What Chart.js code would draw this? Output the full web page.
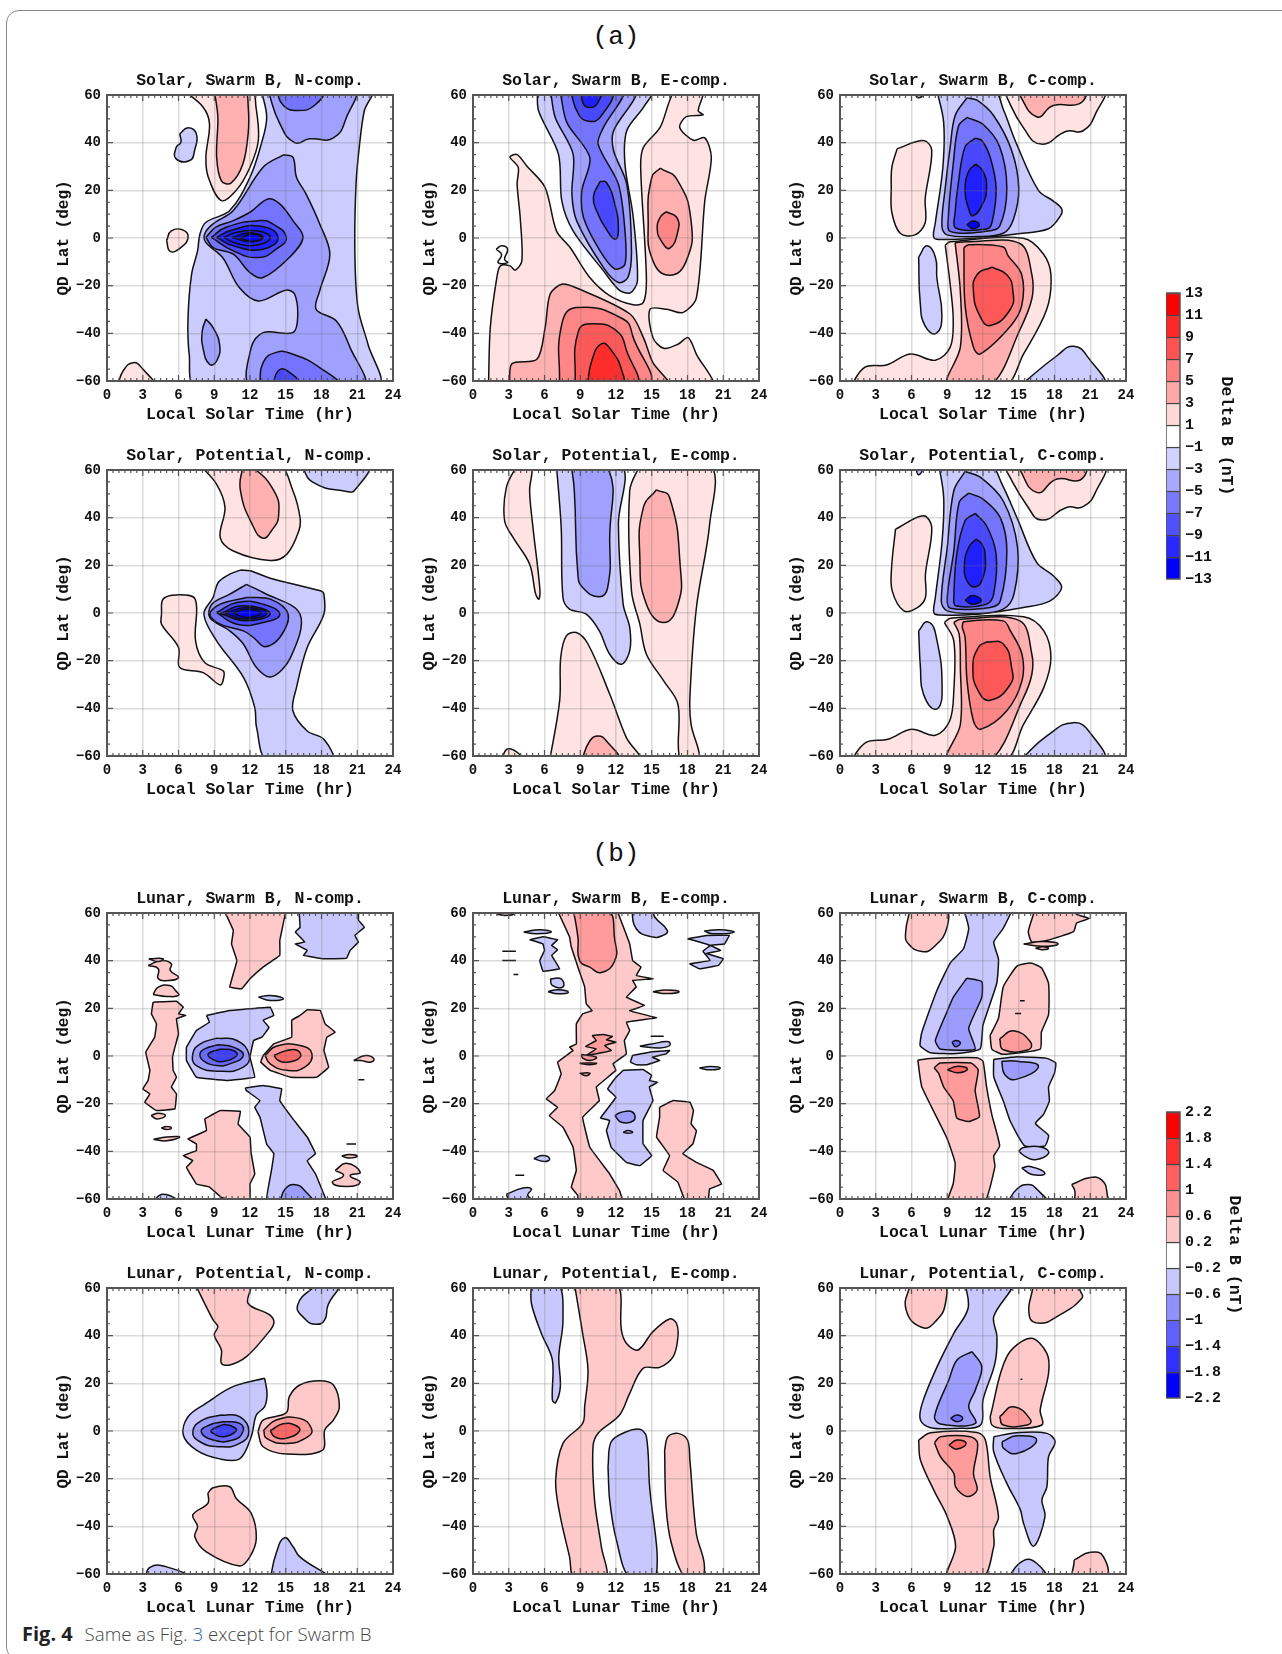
<!DOCTYPE html>
<html>
<head>
<meta charset="utf-8">
<style>
  html, body { margin: 0; padding: 0; background: #fff; width: 1282px; height: 1654px; overflow: hidden; }
  #frame { position: absolute; left: 5.5px; top: 9.5px; width: 1400px; height: 1650px; border: 1.5px solid #8a8a8a; border-radius: 13px; box-sizing: border-box; }
  canvas { position: absolute; }
  .head { position: absolute; left: 566px; width: 100px; text-align: center; font: 26px "Liberation Mono", monospace; color: #111; }
  #caption { position: absolute; left: 22px; top: 1620px; font: 300 18.7px/27px "Open Sans", sans-serif; color: #444; white-space: nowrap; }
  #caption b { font-size: 20px; font-weight: 700; color: #222; margin-right: 7px; }
  #caption span { color: #2a5db0; }
</style>
</head>
<body>
<div id="frame"></div>
<div class="head" style="top:22px">(a)</div>
<div class="head" style="top:839px">(b)</div>
<div id="caption"><b>Fig. 4</b> Same as Fig. <span>3</span> except for Swarm B</div>
<script src="https://cdn.jsdelivr.net/npm/chart.js@4/dist/chart.umd.min.js"></script>
<script>
// contours: [level index, [hr, deg, hr, deg, ...]], painted in list order
const solarSwarmN = [
  [1, [0.9,-62, 1.35,-55.8, 2.2,-52.3, 3,-55, 3.9,-62]],
  [1, [6.4,62, 8.05,55, 8.6,48, 8.3,34, 8.5,25.5, 9.6,15.7, 10.85,20, 12,29.7, 12.7,41, 12.5,55, 12.1,62]],
  [2, [9,62, 9.3,50.7, 9.2,34, 9.6,24, 10.4,23, 11.4,31, 11.85,44, 11.85,55, 11.55,62]],
  [-1, [6.1,43.7, 6.8,46.3, 7.5,43.7, 7.35,36.7, 6.95,32.5, 5.8,33.2, 5.8,38, 6.2,40.2]],
  [1, [5,-1.1, 5.4,3, 6.4,3.3, 6.8,0.2, 6.2,-4, 5.3,-5.6]],
  [-1, [12.95,62, 13.4,50.7, 12.95,39.5, 12,25.5, 10.3,11.5, 8.3,6.6, 7.8,1.7, 7.6,-5.4, 7.1,-15.2, 6.8,-33.4, 6.9,-48.8, 7.5,-62, 22.7,-62, 21.9,-44.6, 21.06,-29.2, 20.8,-5.4, 20.9,22.7, 21.2,39.5, 21.6,53.5, 22.2,62]],
  [-2, [13.5,62, 14.5,48, 15.75,40, 17,41.6, 19,42, 20.1,50.7, 20.6,62]],
  [-3, [14.2,62, 14.8,55.6, 16,53.5, 17.4,55.6, 18.1,62]],
  [-2, [14.8,34.9, 15.6,33.9, 15.9,25.5, 16.7,18.5, 17.85,5.9, 18.7,-6.8, 17.85,-22.2, 17.55,-29.9, 19.25,-34.8, 20.4,-46, 21.5,-62, 12.1,-62, 12.1,-46, 13.1,-39.7, 15.6,-39.7, 16,-33.4, 15.75,-23.6, 15,-21.9, 12.7,-26.4, 11.1,-20.8, 9.7,-8.2, 8.3,-1.9, 8.2,1.7, 8.9,5.9, 10.6,11.5, 13.1,29.7]],
  [-2, [8.3,-34, 8.9,-37.6, 9.45,-44.6, 9.2,-51.6, 8.6,-53, 8.05,-46, 8,-39]],
  [-3, [8.3,0.25, 9.1,4.5, 10.6,7.3, 12,10.8, 13.5,16.4, 14.5,14.3, 15.6,7.3, 16.45,0.25, 15.3,-8.2, 13.1,-16.6, 12,-14.5, 10.6,-6.8, 8.9,-4]],
  [-3, [12.8,-62, 13.1,-52.3, 14.2,-48, 15.6,-48.8, 17.85,-54.4, 19.4,-62]],
  [-4, [13.9,-62, 14.35,-55.8, 15.05,-55.4, 16.2,-62]],
  [-4, [8.75,0.25, 10,4.5, 12.8,7.3, 13.9,5.9, 15.05,0.25, 14.2,-4.7, 12.7,-8.2, 10.6,-5.4]],
  [-5, [9.2,0.25, 10.3,3, 12.8,5, 14.35,0.25, 13.1,-4.7, 10.6,-3.3]],
  [-5, [9.8,0.25, 10.85,2.3, 12.5,3, 13.7,0.25, 12.5,-3, 10.7,-2]],
  [-6, [10.5,0.25, 12,2.2, 13.1,0.25, 12,-1.6]],
  [-6, [11.2,0, 12.1,1.7, 13,0, 12.1,-1.5]]
];
const solarSwarmE = [
  [1, [1.3,-62, 1.45,-37.6, 2,-16.6, 2.3,-11.7, 3.1,-11.7, 3.55,-13.5, 4.1,-9.6, 3.96,8.6, 3.7,22.6, 3.8,29.6, 3.1,34, 3.7,35, 4.5,30.3, 6.05,21.2, 7,3, 8.15,-4, 9.8,-16.6, 11.5,-24.3, 13.45,-28, 14.3,-27, 14.55,-16.6, 14.07,29.6, 14.3,38, 15.7,46.4, 16.5,57.6, 17,62, 19.3,62, 18.9,53.4, 19.3,51.7, 17.9,50.9, 17.35,46.4, 18.5,41, 19.45,42, 20,33.8, 19.45,15.6, 18.75,-25, 17.6,-31.3, 16.25,-29.9, 14.85,-29.9, 15.1,-41.8, 16,-46.3, 17.2,-44.6, 18.05,-41.8, 18.75,-48.8, 20,-62]],
  [0, [1.95,-4.7, 2.4,-3.3, 2.9,-4.7, 2.65,-8.9, 2.9,-10.3, 2.1,-10.3, 2.4,-7]],
  [-1, [5.4,62, 5.5,53.4, 7.17,35.2, 7.45,15.6, 8.4,3, 10.95,-13.8, 12.3,-22, 13.2,-23, 13.8,-18, 13.45,8.6, 12.75,31, 12.9,45, 14.3,54.8, 15,62]],
  [-2, [6.5,62, 6.9,50.6, 8.4,35.2, 8.3,18.4, 8.7,7.2, 10.95,-12.4, 12.2,-18.7, 13,-16.6, 13.3,-5.4, 12.9,22.6, 11.8,36.6, 11.8,45, 13.45,57.6, 13.7,62]],
  [-3, [7.3,62, 7.87,48.5, 9.8,33.8, 9.13,19.8, 9.27,8.6, 10.66,-5.4, 11.9,-13, 12.75,-11, 12.75,3, 12.2,22.6, 10.5,39.4, 10.95,46.4, 12.6,62]],
  [-4, [8.15,62, 8.85,52, 9.7,49, 10.66,50.6, 11.6,62]],
  [-5, [9.05,62, 9.27,56.2, 9.8,54.8, 10.4,56.2, 10.66,62]],
  [-4, [10.66,23.7, 11.2,23.3, 11.9,14.2, 12.2,3, 11.9,-0.5, 11.1,4.4, 10.5,10, 10.1,17]],
  [2, [15.7,29.3, 17.1,24.7, 18.3,7.2, 17.9,-9.6, 16.5,-15.6, 15.1,-9.6, 14.7,7.2, 15,25.4]],
  [3, [16.2,11, 17.1,8.6, 17.2,3, 16.5,-4.3, 15.8,-1.2, 15.46,3.7, 15.7,8.6]],
  [2, [3.07,-62, 3.27,-52.7, 5.36,-50.9, 6.05,-37.6, 6.47,-23.6, 7.45,-19.4, 8.7,-21, 13.2,-32, 14.3,-41.8, 15.1,-52.3, 16.4,-62]],
  [3, [7.25,-62, 7.45,-36.2, 8.7,-29.2, 12.6,-34, 13.45,-41.8, 14.6,-62]],
  [4, [8.55,-62, 8.85,-39, 10.1,-36, 12.05,-39, 12.9,-47.4, 13.6,-62]],
  [5, [9.6,-62, 9.96,-51.6, 10.8,-44.3, 11.65,-47.4, 12.5,-55.8, 12.5,-62]]
];
const solarSwarmC = [
  [-1, [6.1,62, 6.6,58.8, 7.15,62]],
  [-1, [8.13,62, 8.7,48.4, 8.63,29.6, 8,6.4, 7.85,0.6, 8.27,-0.6, 11.5,0, 14.8,1.7, 17.5,3.9, 18.5,9.3, 18.6,12.2, 17.9,15.5, 16.65,20, 14.8,39.7, 13.7,54, 12.9,62]],
  [-2, [10.65,58.8, 9.66,51.3, 9.25,38.3, 8.83,20.9, 8.55,5, 8.97,1.3, 11.5,0.6, 13.7,2, 14.55,7.8, 15,20.9, 14.4,36.8, 12.9,51.3, 11.5,57.8]],
  [-3, [10.65,50.6, 9.95,47, 9.5,31, 9.1,9.3, 9.25,2.8, 12.3,2.8, 13.4,5, 14,20.9, 13.4,38.3, 12,47.7]],
  [-4, [11.35,41.9, 10.5,38.3, 9.95,23.8, 9.66,10.7, 9.7,4.2, 12.3,3.8, 12.75,6.4, 13.1,20.9, 12.6,33.9, 11.9,40.9]],
  [-5, [11.4,31, 10.8,28, 10.5,19.4, 10.8,12.2, 11.15,9.3, 11.9,13.6, 12.3,20.9, 12,28]],
  [-6, [10.65,5.6, 11.15,7.1, 11.7,5.6, 11.15,3.9]],
  [1, [4.8,37.5, 7,40.9, 7.7,36.8, 7.15,16.5, 7.15,6.4, 6.3,1.3, 5.05,2, 4.35,10.7, 4.3,20.9, 4.35,29.6]],
  [-1, [6.6,-8, 7.3,-3.3, 8,-8, 8.13,-16.8, 8.55,-32.8, 8.07,-40, 7.15,-37, 6.73,-27]],
  [1, [8.83,-3, 9.25,-1.6, 15.4,-0.1, 17.07,-6.7, 17.7,-15.4, 17.35,-29.9, 15.4,-48.7, 13.7,-62, 1.3,-62, 2.1,-54.2, 3.9,-53.3, 5.9,-48.7, 8,-51.3, 9.25,-45.8, 9.5,-34.2, 9.25,-19.7]],
  [2, [9.66,-2, 10.65,-1.6, 15.1,-2.3, 16.1,-15.4, 16.1,-25.5, 15.1,-38.5, 12.6,-62, 9,-62, 10.1,-45.8, 10.1,-22.6]],
  [3, [10.4,-4, 10.8,-2.8, 13.7,-3.8, 14.1,-7.4, 15.25,-15.4, 15.25,-28.4, 14.3,-37, 11.75,-48.7, 11.2,-45.8, 10.5,-28.4]],
  [4, [12.75,-12.2, 14,-15.4, 14.5,-21.9, 14.3,-29.9, 12.6,-36.7, 11.75,-32.8, 11.2,-22.6, 11.5,-15.4]],
  [1, [13.7,62, 15.4,46.2, 16.9,39.4, 19,44.8, 20.4,45, 21.5,52.7, 22,62]],
  [2, [14.8,62, 16.5,50.9, 17.9,55.6, 20.1,56.4, 20.5,62]],
  [-1, [15.1,-62, 18.2,-49.4, 19.6,-45.4, 20.8,-50, 22,-62]]
];
const solarPotentialN = [
  [1, [7.8,62, 9.2,54, 9.9,44.3, 9.5,31.7, 10.6,26, 13.7,22, 15.1,24.7, 16.1,34.5, 16.2,40, 15.6,51.3, 14.4,62]],
  [2, [11.4,62, 11.2,51.3, 12.3,36, 13.1,31.4, 13.8,34.5, 14.4,40.8, 14,51.3, 12,62]],
  [-1, [16.3,62, 17.3,54.8, 20.1,51, 20.8,51.6, 21.8,62]],
  [1, [4.57,-0.5, 4.7,5.8, 5.83,7.6, 7.4,5.8, 7.43,-11.7, 8.2,-20.8, 9.75,-24.3, 9.8,-27, 9.5,-30.2, 8.07,-25, 6.1,-22.9, 6,-14.5, 4.57,-4.7]],
  [-1, [11.2,18, 12,17.7, 13.7,14.6, 17.9,9.3, 18.2,7.9, 18.2,-0.5, 16.8,-14.5, 15.9,-31.3, 15.6,-41, 16.8,-49.5, 18.2,-53, 18.9,-62, 13.5,-62, 12.55,-48, 12.4,-39.7, 11.45,-27, 9.2,-11.7, 8.13,-0.5, 8.9,6.5, 9.33,12.8, 10.3,16.3]],
  [-2, [11.7,12, 13.1,8.6, 16.2,-0.5, 15.4,-18.7, 13.8,-26.8, 12.56,-23, 11.44,-13, 10.3,-7.5, 8.63,-1.9, 8.8,3.7, 10.3,7.9]],
  [-3, [11.7,6.5, 13.7,5.8, 15.2,-0.5, 14.5,-10.3, 13.26,-14.2, 12.3,-10.3, 11.44,-7.5, 9.5,-4.7, 8.63,-0.5, 9.5,3.7]],
  [-4, [9.2,0.2, 10.9,4.4, 13.1,3.7, 14.5,-0.5, 13.1,-4, 10.9,-4.7]],
  [-5, [9.5,-0.2, 11.4,3, 13.7,-0.2, 11.7,-3.3]],
  [-6, [9.9,-0.1, 11.7,2.3, 13.4,-0.1, 11.7,-2.6]],
  [-6, [10.6,0, 11.7,1.6, 12.9,0, 11.7,-1.9]]
];
const solarPotentialE = [
  [1, [3.7,62, 2.8,52.7, 2.65,38.7, 3.36,31.7, 4.75,20.5, 5.26,7.9, 5.54,5.8, 5.6,10.7, 5,37.3, 4.75,51.3, 4.9,62]],
  [-1, [7,62, 7.4,36, 7.55,6.5, 8.1,1.6, 9.5,-0.5, 10.6,-7.5, 11.47,-17.3, 12.45,-21.5, 13.15,-15.9, 13.15,-6, 12.6,3.7, 12.2,37.3, 12.45,62]],
  [-2, [8.25,62, 8.5,51.3, 8.8,16.3, 9.2,10.7, 10.6,6.8, 11.3,10.7, 11.47,30.3, 11.2,62]],
  [1, [14,62, 13.15,51.3, 13.3,9.3, 14,-4.7, 14.55,-17.3, 16,-28.5, 17.2,-38.3, 17.4,-62, 19,-62, 18.3,-46.7, 18.2,-35.5, 18.75,2.3, 19.86,37.3, 19.9,62]],
  [2, [15.4,51.7, 16.5,48.5, 17.4,19, 17.2,3.7, 16,-4, 14.55,3.7, 14,23.3, 14.3,44.3]],
  [1, [6.43,-62, 7.27,-36.9, 7.36,-18.7, 7.83,-9.6, 8.67,-8.2, 9.65,-13, 11.47,-34, 12.87,-52.3, 14,-62]],
  [2, [9.1,-62, 9.8,-53.7, 10.5,-51.6, 11.2,-53.7, 12.2,-62]],
  [1, [2.3,-62, 3,-57, 4.2,-62]]
];
const solarPotentialC = [
  [-1, [6.3,62, 6.6,58, 7,62]],
  [-1, [8.3,62, 8.7,48.5, 8.57,30.3, 8,6.5, 7.87,0.2, 8.3,-0.8, 11.5,-0.5, 15.4,2.3, 17.6,5, 18.6,10.7, 17.9,15.6, 16.5,21.2, 14.85,40, 13.6,54, 12.6,62]],
  [-2, [10.5,59.4, 9.55,51.3, 9,27.5, 8.5,5, 9,0.9, 11.5,-0.2, 13.7,1.6, 14.6,7.9, 14.9,27.5, 13.7,47, 11.8,56.9]],
  [-3, [10.8,50.3, 10,46.4, 9.55,26, 9,6.5, 9.27,2, 12.6,2.3, 13.45,5, 14,26, 13.45,40, 12,47.8]],
  [-4, [11.35,41.8, 10.5,38.7, 9.8,24.7, 9.55,6.5, 9.7,3, 12.3,3.7, 12.9,8, 13.1,24.7, 12.3,36.6]],
  [-5, [11.4,31, 10.8,27.5, 10.45,20.5, 10.66,13.5, 11.4,11, 12,15, 12.2,23.3, 11.9,29]],
  [-6, [10.5,5.4, 11.1,7.3, 11.86,5.4, 11.1,3.7]],
  [1, [4.66,35.2, 7,40.8, 7.7,35.9, 7.17,16.3, 7.17,6.5, 6.5,2.3, 5.36,0.9, 4.38,9.3, 4.33,19.1]],
  [-1, [6.6,-7.5, 7.3,-3.7, 8,-8.2, 8.57,-34, 8,-40.4, 7,-34, 6.75,-22.9]],
  [1, [8.76,-4, 9.27,-2.2, 15.4,-1.6, 17.1,-7.5, 17.7,-18.7, 17.1,-31.3, 15.4,-46.7, 13.7,-62, 1.3,-62, 2.15,-54.4, 4,-53, 6,-48.8, 8,-51.3, 9.2,-45.3, 9.55,-32.7, 9.55,-11.7]],
  [2, [9.55,-4, 10.1,-2.6, 15.1,-3.3, 16.1,-17.3, 16.1,-25.7, 15.4,-35.5, 12.6,-62, 9,-62, 10.1,-46.7, 10.1,-22.9, 10,-8.9]],
  [3, [10.25,-6, 10.4,-3.7, 13.7,-3.3, 14.3,-7.5, 15.27,-17.3, 15.27,-28.5, 14,-41, 11.8,-48.8, 11.2,-45.3, 10.66,-28.5, 10.5,-10.3]],
  [4, [12.3,-12.1, 13.7,-13, 14.4,-22.9, 14.3,-29.9, 12.6,-36.6, 11.6,-32.7, 11.15,-22.9, 11.6,-14.5]],
  [1, [13.7,62, 15.7,45, 16.95,39, 19,44.3, 20.4,44.6, 21.5,51.3, 22,62]],
  [2, [14.85,62, 16.5,50.6, 18.2,56.2, 20.15,55.8, 20.5,62]],
  [-1, [15.1,-62, 17.36,-51.6, 19.6,-46, 21.1,-51, 22,-62]]
];
const lunarSwarmN = [
  [1, [3.87,22.6, 5.83,23, 6.4,20.5, 6,17.7, 6.6,17, 5.83,15.6, 6,9.3, 5.7,3.7, 5.5,-0.5, 5.55,-6, 5.83,-8.9, 5.4,-13, 5.83,-15.9, 5.7,-22.2, 4.15,-22.9, 3.17,-19.4, 3.6,-15.9, 3,-13.8, 3.45,-10.3, 3.6,-6, 3.25,1.6, 4,7.9, 4.15,13.5, 3.73,17.7]],
  [1, [3.87,25.8, 4.3,28.9, 5.27,29.6, 5.75,27.5, 6,25.4, 5,25]],
  [1, [3.45,38, 4.57,40.1, 5.4,38.7, 5.3,35.9, 6,33, 5.13,31.7, 4.3,32.4, 4.3,36.6]],
  [1, [3.5,40.8, 4.7,40.8, 4.3,39.6]],
  [1, [3.7,-25, 4.3,-24, 4.9,-25, 4.2,-26.4]],
  [1, [4.55,-30.2, 5,-29.6, 5.4,-30.2, 5,-30.8]],
  [1, [3.9,-35, 5,-34, 6.1,-34, 5,-35.6]],
  [1, [20.7,-1.9, 21.7,0.2, 22.4,-1.2, 22.1,-2.6, 21.3,-1.9]],
  [1, [21.1,-10, 21.6,-10]],
  [-1, [16.1,62, 16.2,54, 15.8,52, 16.6,47.8, 15.8,47, 16.8,44.3, 16.5,42.2, 18.2,40.8, 20.1,41, 20.4,44.3, 21.1,47.8, 20.8,50.6, 21.6,54, 21.1,57, 21.1,62]],
  [1, [9.75,62, 10.6,52.7, 10.45,47, 10.9,40, 10.3,28.9, 11.3,28.2, 12,32.4, 13.1,37.3, 14.5,42.2, 14.5,48.5, 15,62]],
  [-1, [12.7,24.7, 13.7,25.4, 14.8,24, 13.7,23.3]],
  [-1, [8.35,17, 10.3,19.1, 13.7,20.5, 14,17, 13.1,15, 13.6,12, 13,7.9, 12.3,6.5, 12,-0.5, 12.4,-8.9, 10,-10.3, 7.5,-8.9, 6.67,-1.9, 6.67,3.7, 7.5,10.7, 8.6,14.2]],
  [-2, [9.2,7.5, 10.9,6.5, 11.94,0.2, 11.44,-4.7, 9.5,-6.4, 7.5,-4, 7.2,0.9, 7.8,5]],
  [-3, [9.3,4.7, 10.6,3.7, 11.44,0.2, 10.3,-3.3, 9.2,-4, 8.07,-1.9, 7.8,0.9, 8.2,3]],
  [-4, [9.5,2.9, 10.6,2.3, 10.9,0.2, 9.75,-2.3, 8.8,-1.2, 8.5,0.9]],
  [1, [13.1,0.2, 14,5.1, 15.5,7.9, 15.5,15, 16.2,17, 16.8,19.4, 17.9,19.1, 18.3,13.5, 19.15,10, 18.45,7.9, 18.2,2.3, 18.6,-4.7, 17.6,-8.9, 15.4,-8.9, 13.7,-6, 12.9,-2.6]],
  [2, [13.26,0.2, 14.2,4.1, 16.2,4.4, 17.2,0.9, 16.6,-4.7, 15.1,-6, 13.7,-3.3]],
  [3, [14,0.2, 15.1,2.3, 16,2.3, 16.2,-0.5, 15.1,-2.6, 14.4,-1.9]],
  [-1, [11.6,-13.4, 13.1,-12.4, 14.66,-13.8, 14.5,-18.7, 15.6,-26.4, 16.8,-34, 17.5,-41, 16.8,-43.9, 17.5,-49.5, 18.3,-59.3, 18.5,-62, 13.35,-62, 13.8,-48, 14,-41, 13.4,-37, 12.84,-25.7, 12.4,-21.5, 12.84,-18.7, 11.7,-14.5]],
  [-2, [14.47,-62, 14.95,-55.8, 15.8,-54, 16.6,-56.5, 17.25,-62]],
  [-1, [3.73,-62, 4.7,-58, 6.1,-62]],
  [1, [8.2,-26.4, 9.5,-22.9, 11.2,-23.2, 11,-28.5, 12,-34, 12.1,-41, 12.4,-49.5, 12,-53.7, 12,-62, 9.6,-59.3, 8.6,-55, 7.5,-53.7, 6.67,-46.7, 7.2,-43.9, 6.4,-41.8, 7.5,-39.7, 7.5,-36.9, 6.8,-34.8, 8.35,-31.3]],
  [1, [19.15,-48, 20.1,-45, 21.25,-48.8, 20.4,-50.2, 21.25,-53, 20.1,-54.8, 18.9,-53, 19.85,-50.2]],
  [1, [19.7,-42, 20.3,-41.3, 21,-42, 20.3,-42.8]],
  [1, [20.1,-36.9, 20.9,-36.9]]
];
const lunarSwarmE = [
  [1, [7,62, 8.1,50, 8.25,45.7, 8.8,37.3, 9.37,29, 9.5,21.9, 10,19, 9.2,17.7, 8.67,13.5, 8.67,5, 8.1,3.7, 8.4,2.3, 7.1,-2.6, 7.4,-7.5, 6.85,-14.5, 6.15,-18, 7.1,-21.5, 6.4,-25, 7.55,-29.9, 8.4,-38.3, 8.67,-48, 8.25,-55, 8.8,-58.6, 8.8,-62, 12.6,-62, 12.3,-56.5, 11.47,-49.5, 9.8,-38.3, 9.2,-25.7, 10.6,-18.7, 10.35,-13, 12,-6, 11.75,-3.3, 12.87,0.9, 12.7,6.5, 13.15,10.7, 12.87,14.2, 15.4,16, 13.15,19, 14.4,21.2, 12.87,24.7, 13.7,29, 13.4,31.7, 15.1,32.4, 13.7,33.8, 14.1,37.3, 13.4,40, 13.15,47, 12.3,58.3, 12,62]],
  [2, [8.4,62, 8.8,50, 8.95,40, 9.8,37.3, 10.77,35, 11.9,40, 11.9,48.5, 11.2,62]],
  [2, [10,8.6, 10.9,9, 11.7,8.2, 11.2,6.8, 12,5.8, 11.05,4.4, 11.6,2.3, 10.35,0.9, 9.5,0.2, 10.35,3, 9.45,4, 10.35,6.5]],
  [2, [9.1,0.6, 10.35,-0.5, 9.8,-1.9, 9.2,-0.8]],
  [2, [8.95,-3, 10.35,-3, 9.8,-3.7]],
  [2, [8.95,-7.2, 9.8,-7.2, 9.5,-8.3]],
  [-1, [13.3,62, 13.7,53.4, 15,50, 15.95,50.6, 16.3,52.7, 15.25,58.3, 15,62]],
  [-1, [4.25,52, 5.6,53, 6.57,52, 5.3,51.3]],
  [-1, [4.75,48.8, 5.87,50, 7.1,48.8, 6.6,46.4, 7.1,44.6, 6.6,42.2, 7.27,36.6, 5.87,35.6, 5.6,40, 6,44.3, 5.87,47]],
  [-1, [6.5,32.4, 7.4,32.4, 7.55,29, 6.65,29.6]],
  [-1, [6.3,27, 7.1,27.8, 8,26.8, 7.1,26.1]],
  [-1, [2.46,44, 3.6,44]],
  [-1, [2.46,40.1, 3.6,40.1]],
  [-1, [3.4,34.2, 3.8,34.2]],
  [-1, [18,49.2, 19.6,50.6, 21.5,50.6, 21.1,47, 19.9,46.4, 20.8,44.3, 19.6,43, 21,40.8, 20.6,38, 19,36.6, 18.2,38.7, 19.9,40.1, 19.3,44, 19.9,46.4]],
  [-1, [19.4,52.4, 20.7,53, 21.9,52, 20.1,51.3]],
  [1, [15.1,27, 16.2,27.7, 17.3,27, 16.2,26.2]],
  [1, [2,59.5, 2.7,60, 3.4,59.5, 2.7,59]],
  [-1, [14.9,8.3, 16,8.3]],
  [-1, [14,4.1, 15,5, 16.4,6, 16.5,4.4, 15.7,3.4]],
  [-1, [13.2,-2.6, 13.4,0.2, 14.8,1.6, 16.5,2.3, 16.2,0.9, 15.05,-0.5, 15.66,-1.9, 14.55,-3.7, 13.7,-3.7]],
  [-1, [19,-5, 19.9,-4.4, 20.75,-5, 19.9,-5.8]],
  [-1, [12.6,-6, 14.27,-5.7, 15,-8.2, 14.8,-10.3, 15.5,-11, 14.8,-13, 15.1,-18.7, 14.27,-27, 14.27,-36.9, 15,-41.8, 14,-46, 12.87,-44.6, 11.6,-38.3, 11.2,-31.3, 11.47,-27, 10.7,-26, 12,-17.3, 11.3,-13.8, 12,-8.9]],
  [-2, [11.9,-25, 12.45,-23.6, 13.4,-23.6, 13.5,-27, 12.45,-27.8]],
  [-1, [12.6,-32, 13,-31.3, 13.4,-32, 13,-32.4]],
  [-1, [5.1,-43, 5.87,-41.8, 6.43,-43.2, 6,-44.3]],
  [-1, [3.55,-50, 4.3,-50]],
  [-1, [2.8,-58, 4.2,-55.4, 4.9,-55.8, 4.6,-58.6, 5.45,-62, 3.2,-62]],
  [1, [15.66,-21.5, 16.8,-18.7, 18.2,-19.4, 18.5,-22.9, 18.3,-28.5, 18.75,-31.3, 18.45,-36.9, 17.6,-41, 18.75,-44.6, 20.15,-48, 20.85,-53.7, 19.85,-55.8, 19.7,-62, 17.9,-62, 17.2,-53, 15.95,-48, 16.5,-41.8, 15.4,-34, 15.66,-25.7]]
];
const lunarSwarmC = [
  [1, [5.9,62, 5.5,51.4, 5.75,47, 6.87,43.8, 7.85,45.6, 9,54.3, 8.7,62]],
  [-1, [10.36,62, 10.8,53.6, 10.36,45, 9.25,39, 8.13,27.5, 6.87,10, 6.73,4.3, 7.57,1.4, 9.8,1, 11.76,2.9, 12,13, 13.15,30.4, 13.3,40.6, 12.9,47.8, 13.7,53.6, 14.4,62]],
  [-2, [10.64,32.6, 11.9,31.2, 11.9,24.6, 10.8,11.6, 11.34,2.9, 8.4,2.9, 8,6.5, 9,18.8, 9.5,24.6]],
  [-3, [9.4,5.8, 9.7,6.5, 10.1,5.5, 9.7,3.9]],
  [1, [16.4,62, 15.8,52.2, 16.1,47.8, 17.35,48.5, 19.6,52.2, 19.86,55.8, 20.9,57.7, 19.86,59.4, 19.5,62]],
  [1, [15.4,47, 17,48, 18.3,47, 17,46]],
  [1, [16.4,45.2, 17,45.8, 17.5,45.2, 17,44.6]],
  [1, [12.6,8.7, 13.3,15.9, 13.7,29, 14.85,37.7, 16,39, 16.9,37, 17.5,30.4, 17.5,17.4, 16.9,10, 16.8,2.9, 13.7,0.7, 12.74,2.9]],
  [2, [13.4,7.2, 14.55,10.6, 16,5.8, 15.8,2.6, 13.7,2.6]],
  [2, [15.1,23.2, 15.5,23.2]],
  [2, [14.7,17.8, 15.2,17.8]],
  [-1, [12.9,-1.4, 14.85,-0.3, 17.35,-1, 18.1,-2.9, 18,-7.2, 17.5,-13, 17.57,-18.8, 17.07,-24.6, 16.4,-28.3, 17.5,-33.3, 17.2,-37.7, 15.5,-37.7, 14.3,-27.5, 13.7,-18.8, 12.9,-8.7]],
  [-1, [15,-39.9, 15.4,-38.4, 17,-38.4, 17.5,-40.9, 16.4,-43.5, 15.5,-42]],
  [-1, [15.25,-47, 15.95,-46.4, 17.2,-49.3, 16.1,-49.7]],
  [-2, [13.57,-2.2, 14.85,-2.2, 16.65,-4.3, 14.85,-9.7, 13.85,-8]],
  [1, [6.53,-1.7, 7.57,-1, 11.5,-0.7, 12,-2.2, 12.3,-13, 12.74,-24.6, 13.4,-37.7, 12.9,-42, 13,-46.4, 12.05,-62, 9,-62, 9.5,-53.6, 9.66,-44.9, 9,-34.8, 8,-24.6, 6.87,-13, 6.67,-7.2]],
  [2, [7.9,-5, 8.4,-2.9, 11,-2.9, 11.6,-5.8, 11.34,-14.5, 11.7,-25.4, 10.8,-27.5, 9.8,-26, 9.5,-18.8, 8.7,-13, 8.27,-7.2]],
  [3, [9,-5.8, 9.9,-4.3, 10.7,-5.5, 9.9,-7]],
  [-1, [14,-62, 14.85,-55.8, 15.8,-53.9, 16.5,-55.8, 17.35,-62]],
  [1, [19.44,-53.9, 21,-51, 21.95,-52, 22.4,-57.2, 22.2,-62, 19.86,-62, 19.7,-56.5]]
];
const lunarPotentialN = [
  [1, [7.36,62, 8.9,46.6, 9.3,43.8, 9,40.3, 9.6,34, 9.6,28.4, 10.3,27.7, 11.7,31.2, 13.37,40.3, 14,45.2, 13.65,48.7, 11.83,53.6, 12,62]],
  [-1, [17.7,62, 16,52.9, 16.7,46.6, 17.57,44.8, 18.27,46.6, 18.55,52.9, 19.5,62]],
  [-1, [13.23,22.1, 13.43,15.8, 13.23,10.2, 12.53,6.7, 12.1,-2.4, 11.13,-11.7, 9.45,-11.7, 7.5,-8, 6.4,-1.7, 6.8,6, 8.3,11.6, 10.57,18.6]],
  [-2, [9.6,6.7, 11.13,6, 11.9,-0.3, 11.13,-5.2, 9.45,-6.6, 7.8,-4.5, 7.2,-0.3, 8,4.6]],
  [-3, [9.73,3.9, 11.13,3.2, 11.4,-0.3, 10.57,-3.8, 8.9,-3.8, 7.9,-0.3, 8.6,2.5]],
  [-4, [9.8,2.8, 10.57,1.8, 10.85,0.1, 9.8,-2.4, 8.9,-1, 8.75,0.4]],
  [1, [12.67,-0.3, 13.1,4.6, 15.05,7.7, 15.3,14.4, 16.17,19.3, 17.85,21.1, 19,19.3, 19.5,10.2, 19,4.6, 18.27,0.4, 18.1,-8, 15.05,-9.7, 13.1,-6.6]],
  [2, [13.15,0.4, 14.2,4.6, 16.17,5.3, 17.15,1.1, 16.87,-2.4, 15.05,-5.2, 13.37,-3]],
  [3, [13.7,0.1, 14.77,3, 15.75,2.5, 16.17,0.1, 15.05,-3, 14.07,-2.4]],
  [1, [8.47,-26, 8.9,-23.8, 10.3,-23.4, 10.85,-28.3, 12.1,-34.5, 12.53,-45, 12,-52.7, 11.13,-56.6, 8.3,-50.6, 7.36,-44.3, 7.6,-40, 7.2,-35.2, 8.47,-30.3]],
  [-1, [13.7,-62, 14.2,-51.3, 14.9,-44.8, 15.6,-48.5, 16.17,-52.7, 18.55,-62]],
  [-1, [3.2,-62, 3.6,-57.2, 5,-57, 7.1,-62]]
];
const lunarPotentialE = [
  [-1, [4.9,62, 4.9,53.6, 5.73,41, 6.66,29.8, 6.66,13, 6.94,11.9, 7.33,18.6, 7.2,31.2, 7.55,46.6, 7.13,62]],
  [1, [8.5,62, 9.2,41, 9.65,25.6, 9.37,10.2, 9.2,3.2, 7.55,-5.2, 6.94,-20.6, 7.27,-34.5, 8.1,-52.7, 8.53,-62, 11.13,-62, 10.77,-48.5, 10.2,-29, 10.07,-6.6, 10.5,-0.9, 12.3,6.7, 13.15,15.8, 14.27,26.3, 15.66,26.7, 16.8,31.2, 17.2,39.6, 17.07,45.2, 16.5,47, 15.1,41.7, 13.85,34, 12.87,36.8, 12.45,42.4, 12.03,62]],
  [-1, [11.33,-15, 11.6,-4.5, 12.87,-0.3, 14,0.7, 14.55,-2.4, 14.8,-22, 15.33,-62, 13.2,-62, 12.03,-45.7, 11.47,-29]],
  [1, [16.08,-8, 16.36,-2.4, 17.2,-1, 18,-3.8, 18.2,-12.2, 18.74,-43, 19.4,-55.5, 19.16,-62, 17.85,-62, 16.64,-47, 16.2,-31.7]]
];
const lunarPotentialC = [
  [1, [5.9,62, 5.55,50.8, 6.9,43.4, 8,45.9, 8.85,53.6, 8.57,62]],
  [-1, [10.5,62, 10.75,51.5, 9.55,41, 8.15,27, 6.9,11.6, 6.75,4.6, 7.6,1.4, 9.8,1.1, 11.8,2.5, 12,13, 13,28.4, 13.17,39.6, 12.9,48, 14.43,62]],
  [-2, [11.08,33.3, 11.9,27, 11.36,17.2, 10.8,10.2, 11.36,3.2, 8.43,2.9, 7.93,6, 9.13,21.4, 9.82,29.8]],
  [-3, [9.27,5.3, 9.82,6.7, 10.3,5.3, 9.82,3.9]],
  [1, [16.24,62, 15.9,48, 16.8,45.2, 18.2,48, 20.3,55.7, 20.15,59, 19.87,62]],
  [1, [12.6,6, 14,31.2, 16,38.9, 17.36,32.6, 17.5,24.2, 16.8,8.8, 16.94,2.5, 13.7,1.1, 12.75,2.5]],
  [2, [13.4,6, 14.57,10.2, 16,4.6, 15.7,2.5, 13.7,2.5]],
  [2, [15.15,21.7, 15.3,21.7]],
  [-1, [12.9,-2.4, 14.85,-0.7, 17.36,-1, 18.05,-4.5, 17.5,-10.8, 17.36,-23.4, 16.94,-29, 17.2,-36, 16.24,-48.3, 15.4,-38.7, 15.13,-33, 14,-22, 12.9,-8.7]],
  [-2, [13.6,-4.5, 14.85,-2, 16.5,-3.8, 14.85,-9.4, 13.73,-7.3]],
  [1, [6.6,-3.8, 7.6,-0.7, 11.5,-0.6, 12.2,-3.8, 12.6,-19.2, 13.3,-36, 12.9,-41.5, 12.9,-48.5, 11.9,-62, 9,-62, 9.7,-48.5, 9,-36, 7.87,-24.8, 6.75,-12.2]],
  [2, [7.93,-4.9, 8.43,-2.4, 10.94,-2.4, 11.55,-5.2, 11.2,-17.8, 11.5,-24.8, 10.66,-27.5, 9.7,-23.4, 9.55,-17.8, 8.43,-10.8]],
  [3, [9.13,-5.9, 9.82,-3.8, 10.58,-5.2, 9.82,-7.6]],
  [-1, [14,-62, 15.4,-54.4, 16.5,-55.5, 17.2,-62]],
  [1, [19.65,-54.1, 21,-50.9, 22.1,-52.7, 22.25,-62, 19.7,-62]]
];

const solarBarLevels = [-13, -11, -9, -7, -5, -3, -1, 1, 3, 5, 7, 9, 11, 13];
const lunarBarLevels = [-2.2, -1.8, -1.4, -1, -0.6, -0.2, 0.2, 0.6, 1, 1.4, 1.8, 2.2];

const solarPos = ['#ffe3e3', '#ffb0b0', '#ff8686', '#ff5858', '#ff2c2c', '#ff0000'];
const solarNeg = ['#ccccff', '#a0a0ff', '#7474ff', '#4848ff', '#2020ff', '#0000ff'];
const lunarPos = ['#ffc9c9', '#ff9b9b', '#ff6666', '#ff4040', '#ff2020', '#ff0000'];
const lunarNeg = ['#c8c8ff', '#9c9cff', '#6a6aff', '#4040ff', '#2020ff', '#0000ff'];
const barPos = ['#ffd8d8', '#ffa8a8', '#ff8080', '#ff5252', '#ff2828', '#ff0000'];
const barNeg = ['#d2d2ff', '#a8a8ff', '#7878ff', '#5050ff', '#2828ff', '#0000ff'];
const barPosLunar = ['#ffc8c8', '#ff9090', '#ff6060', '#ff3030', '#ff0000'];
const barNegLunar = ['#c8c8ff', '#9090ff', '#6060ff', '#3030ff', '#0000ff'];

const MONO = '"Liberation Mono", monospace';
const plotLefts = [107.3, 473, 839.5];
const plotTops = [94.5, 469.5, 913, 1288];
const PLOT = 286, AXIS_W = 60, RIGHT_PAD = 20, TITLE_H = 25, AXIS_H = 50;

function minus(v) { return String(v).replace('-', '\u2212'); }

// frame and inward ticks on all four sides
const frameTicks = {
  id: 'frameTicks',
  afterDraw(chart) {
    const { ctx, chartArea: a, scales: { x, y } } = chart;
    ctx.save();
    ctx.strokeStyle = '#555';
    ctx.lineWidth = 1.2;
    ctx.beginPath();
    for (let h = 0; h <= 24; h += 0.5) {
      const px = x.getPixelForValue(h), len = h % 3 === 0 ? 6 : 3;
      ctx.moveTo(px, a.top); ctx.lineTo(px, a.top + len);
      ctx.moveTo(px, a.bottom); ctx.lineTo(px, a.bottom - len);
    }
    for (let d = -60; d <= 60; d += 5) {
      const py = y.getPixelForValue(d), len = d % 20 === 0 ? 6 : 3;
      ctx.moveTo(a.left, py); ctx.lineTo(a.left + len, py);
      ctx.moveTo(a.right, py); ctx.lineTo(a.right - len, py);
    }
    ctx.stroke();
    ctx.lineWidth = 2;
    ctx.strokeRect(a.left, a.top, a.right - a.left, a.bottom - a.top);
    ctx.restore();
  }
};

function addCanvas(left, top, w, h) {
  const c = document.createElement('canvas');
  c.width = w; c.height = h;
  c.style.left = left + 'px'; c.style.top = top + 'px';
  document.body.appendChild(c);
  return c;
}

function drawPanel(col, row, title, xTitle, contours, lunar, tension) {
  const pos = lunar ? lunarPos : solarPos;
  const neg = lunar ? lunarNeg : solarNeg;
  const n = contours.length;
  const datasets = contours.map(([lvl, flat], i) => {
    const pts = [];
    for (let k = 0; k < flat.length; k += 2) pts.push({ x: flat[k], y: flat[k + 1] });
    pts.push(pts[0]);
    const color = lvl === 0 ? 'rgba(0,0,0,0)' : (lvl > 0 ? pos[lvl - 1] : neg[-lvl - 1]);
    // small closed rings read better rounded, whatever the panel's roughness
    const t = flat.length <= 16 ? 0.5 : tension;
    return {
      data: pts, showLine: true, pointRadius: 0, tension: t,
      backgroundColor: color, borderColor: '#111', borderWidth: 1.5,
      fill: 'shape', order: n - i
    };
  });
  const canvas = addCanvas(plotLefts[col] - AXIS_W, plotTops[row] - TITLE_H,
    AXIS_W + PLOT + RIGHT_PAD, TITLE_H + PLOT + AXIS_H);
  new Chart(canvas, {
    type: 'scatter',
    data: { datasets },
    plugins: [frameTicks],
    options: {
      responsive: false, animation: false,
      layout: { padding: { right: RIGHT_PAD } },
      plugins: {
        legend: { display: false }, tooltip: { enabled: false },
        title: {
          display: true, text: title, color: '#111', fullSize: false,
          font: { family: MONO, size: 16.5, weight: 'bold', lineHeight: 1 },
          padding: { top: 3, bottom: TITLE_H - 19.5 }
        }
      },
      scales: {
        x: {
          type: 'linear', min: 0, max: 24,
          ticks: { stepSize: 3, color: '#111', padding: 6, maxRotation: 0, font: { family: MONO, size: 14, weight: 'bold' } },
          grid: { color: 'rgba(110,110,110,0.25)', lineWidth: 1.5, drawTicks: false, z: 1 },
          border: { display: false },
          title: { display: true, text: xTitle, color: '#111', font: { family: MONO, size: 16.5, weight: 'bold' }, padding: { top: 0, bottom: 6 } },
          afterFit(s) { s.height = AXIS_H; s.paddingLeft = 0; s.paddingRight = 0; }
        },
        y: {
          type: 'linear', min: -60, max: 60,
          ticks: { stepSize: 20, color: '#111', padding: 6, callback: minus, font: { family: MONO, size: 14, weight: 'bold' } },
          grid: { color: 'rgba(110,110,110,0.25)', lineWidth: 1.5, drawTicks: false, z: 1 },
          border: { display: false },
          title: { display: true, text: 'QD Lat (deg)', color: '#111', font: { family: MONO, size: 16, weight: 'bold' }, padding: { top: 7, bottom: 0 } },
          afterFit(s) { s.width = AXIS_W; s.paddingTop = 0; s.paddingBottom = 0; }
        }
      }
    }
  });
}

function drawColorBar(levels, negColors, posColors, left, top, axisW) {
  const H = 286, W = 14, PAD = 12;
  const segs = [];
  const half = negColors.length;
  for (let i = 0; i < levels.length - 1; i++) {
    let color = '#ffffff';
    if (i < half) color = negColors[half - 1 - i];
    else if (i > half) color = posColors[i - half - 1];
    segs.push({ data: [[levels[i], levels[i + 1]]], backgroundColor: color, borderColor: '#444', borderWidth: { top: 1.5 }, borderSkipped: false, grouped: false, barPercentage: 1, categoryPercentage: 1 });
  }
  const canvas = addCanvas(left, top - PAD, W + axisW, H + 2 * PAD);
  new Chart(canvas, {
    type: 'bar',
    data: { labels: ['Delta B'], datasets: segs },
    plugins: [{
      id: 'barFrame',
      afterDraw(chart) {
        const { ctx, chartArea: a } = chart;
        ctx.save(); ctx.strokeStyle = '#555'; ctx.lineWidth = 1.5;
        ctx.strokeRect(a.left, a.top, a.right - a.left, a.bottom - a.top);
        ctx.restore();
      }
    }],
    options: {
      responsive: false, animation: false,
      layout: { padding: { top: PAD, bottom: PAD } },
      plugins: { legend: { display: false }, tooltip: { enabled: false } },
      scales: {
        x: { display: false },
        y: {
          position: 'right', min: levels[0], max: levels[levels.length - 1],
          afterBuildTicks(s) { s.ticks = levels.map(v => ({ value: v })); },
          ticks: { autoSkip: false, color: '#111', padding: 5, callback: minus, font: { family: MONO, size: 15, weight: 'bold' } },
          grid: { display: false, drawTicks: false }, border: { display: false },
          title: { display: true, text: 'Delta B (nT)', color: '#111', font: { family: MONO, size: 16.5, weight: 'bold' }, padding: { top: 0, bottom: 0 } },
          afterFit(s) { s.width = axisW; s.paddingTop = 0; s.paddingBottom = 0; }
        }
      }
    }
  });
}

const SOLAR_X = 'Local Solar Time (hr)', LUNAR_X = 'Local Lunar Time (hr)';
drawPanel(0, 0, 'Solar, Swarm B, N-comp.', SOLAR_X, solarSwarmN, false, 0.35);
drawPanel(1, 0, 'Solar, Swarm B, E-comp.', SOLAR_X, solarSwarmE, false, 0.3);
drawPanel(2, 0, 'Solar, Swarm B, C-comp.', SOLAR_X, solarSwarmC, false, 0.35);
drawPanel(0, 1, 'Solar, Potential, N-comp.', SOLAR_X, solarPotentialN, false, 0.35);
drawPanel(1, 1, 'Solar, Potential, E-comp.', SOLAR_X, solarPotentialE, false, 0.35);
drawPanel(2, 1, 'Solar, Potential, C-comp.', SOLAR_X, solarPotentialC, false, 0.35);
drawPanel(0, 2, 'Lunar, Swarm B, N-comp.', LUNAR_X, lunarSwarmN, true, 0.05);
drawPanel(1, 2, 'Lunar, Swarm B, E-comp.', LUNAR_X, lunarSwarmE, true, 0.05);
drawPanel(2, 2, 'Lunar, Swarm B, C-comp.', LUNAR_X, lunarSwarmC, true, 0.15);
drawPanel(0, 3, 'Lunar, Potential, N-comp.', LUNAR_X, lunarPotentialN, true, 0.35);
drawPanel(1, 3, 'Lunar, Potential, E-comp.', LUNAR_X, lunarPotentialE, true, 0.35);
drawPanel(2, 3, 'Lunar, Potential, C-comp.', LUNAR_X, lunarPotentialC, true, 0.35);

drawColorBar(solarBarLevels, barNeg, barPos, 1166, 293, 56);
drawColorBar(lunarBarLevels, barNegLunar, barPosLunar, 1166, 1112, 64);
</script>
</body>
</html>
